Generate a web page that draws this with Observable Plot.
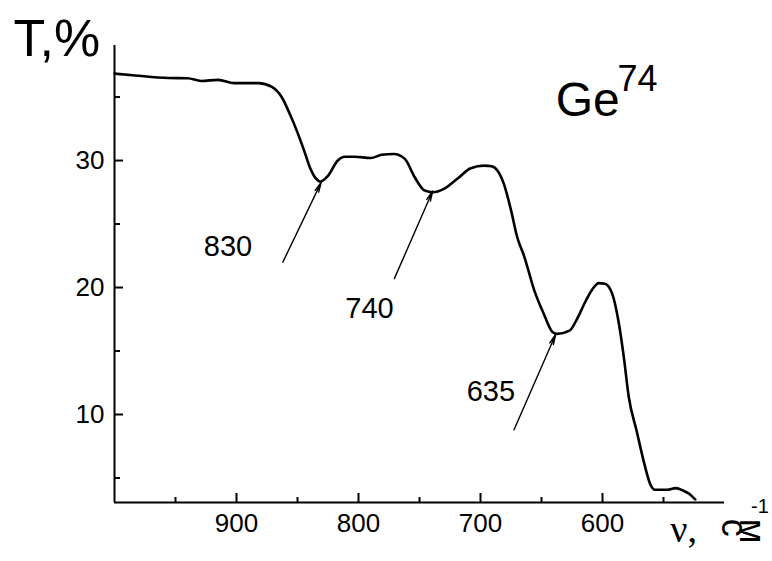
<!DOCTYPE html>
<html>
<head>
<meta charset="utf-8">
<script src="https://cdn.jsdelivr.net/npm/d3@7"></script>
<script src="https://cdn.jsdelivr.net/npm/@observablehq/plot@0.6"></script>
<style>
  html, body { margin: 0; padding: 0; background: #fff; }
  #chart { width: 772px; height: 561px; }
</style>
</head>
<body>
<div id="chart"></div>
<script>
// Spectrum (wavenumber, cm-1) and transmittance (%)
const wavenumber = [1000, 983, 956, 940, 929, 915, 902, 882, 871, 863, 856, 850, 845, 840, 835, 831, 825, 817, 811, 803, 790, 781, 771, 762, 754, 746, 739, 730, 719, 708, 697, 691, 686, 681, 675, 670, 664, 656, 648, 641, 637, 627, 621, 614, 608, 603, 598, 592, 587, 582.5, 578.5, 572, 565, 561, 557, 547, 540, 534, 529, 524];
const transmittance = [36.85, 36.7, 36.5, 36.48, 36.27, 36.35, 36.1, 36.1, 35.8, 35.0, 33.6, 32.2, 30.9, 29.5, 28.6, 28.35, 28.8, 30.0, 30.3, 30.3, 30.2, 30.45, 30.52, 30.13, 28.7, 27.65, 27.5, 27.77, 28.56, 29.4, 29.6, 29.55, 29.2, 28.2, 26.1, 24.0, 22.4, 19.8, 17.9, 16.5, 16.35, 16.6, 17.5, 18.9, 19.9, 20.35, 20.3, 19.5, 17.4, 14.5, 11.4, 8.7, 5.85, 4.55, 4.07, 4.07, 4.2, 4.02, 3.76, 3.31];

// Axes
const xDomain = [1000, 500];
const yDomain = [3.07, 39.06];
const xMajor = [900, 800, 700, 600];
const xMinor = [950, 850, 750, 650, 550];
const yMajor = [10, 20, 30];
const yMinor = [5, 15, 25, 35];

// Peak annotations
const peakLabels = ["830", "740", "635"];
const peakLabelX = [907, 791, 691.5];
const peakLabelY = [23.2, 18.35, 11.8];
const arrowX1 = [862, 770.6, 672.5];
const arrowY1 = [22.0, 20.7, 8.8];
const arrowX2 = [830.5, 739.2, 638.4];
const arrowY2 = [28.3, 27.6, 16.3];

// Texts
const yTitle = "T,%";
const sampleName = "Ge";
const sampleMass = "74";
const xTitleNu = "ν,";
const xTitleUnit = "см";
const xTitleExp = "-1";

const spectrum = wavenumber.map((w, i) => ({w, t: transmittance[i]}));
const peaks = peakLabels.map((l, i) => ({
  label: l, lx: peakLabelX[i], ly: peakLabelY[i],
  x1: arrowX1[i], y1: arrowY1[i], x2: arrowX2[i], y2: arrowY2[i]
}));

const font = "Liberation Sans, Arial, Helvetica, sans-serif";
const blank = () => "";

const chart = Plot.plot({
  width: 772,
  height: 561,
  marginLeft: 114,
  marginTop: 45,
  marginRight: 48,
  marginBottom: 59,
  style: {fontFamily: font, background: "#fff", overflow: "visible"},
  x: {domain: xDomain},
  y: {domain: yDomain},
  marks: [
    // axis lines
    Plot.ruleX([xDomain[0]], {stroke: "#000", strokeWidth: 2}),
    Plot.ruleY([yDomain[0]], {stroke: "#000", strokeWidth: 2}),
    // inward ticks
    Plot.axisX(xMajor, {anchor: "bottom", tickSize: -9, strokeWidth: 2, stroke: "#000", tickFormat: blank, label: null}),
    Plot.axisX(xMinor, {anchor: "bottom", tickSize: -5, strokeWidth: 2, stroke: "#000", tickFormat: blank, label: null}),
    Plot.axisY(yMajor, {anchor: "left", tickSize: -9, strokeWidth: 2, stroke: "#000", tickFormat: blank, label: null}),
    Plot.axisY(yMinor, {anchor: "left", tickSize: -6, strokeWidth: 2, stroke: "#000", tickFormat: blank, label: null}),
    // tick labels
    Plot.axisX(xMajor, {anchor: "bottom", tickSize: 0, tickPadding: 11, fontSize: 26, fill: "#000", tickFormat: d => String(d), label: null}),
    Plot.axisY(yMajor, {anchor: "left", tickSize: 0, tickPadding: 10, fontSize: 26, fill: "#000", tickFormat: d => String(d), label: null}),
    // spectrum
    Plot.line(spectrum, {x: "w", y: "t", stroke: "#000", strokeWidth: 2.6, curve: "monotone-x"}),
    // arrows
    Plot.arrow(peaks, {x1: "x1", y1: "y1", x2: "x2", y2: "y2", stroke: "#000", strokeWidth: 1.4, headLength: 11, headAngle: 22}),
    Plot.text(peaks, {x: "lx", y: "ly", text: "label", fontSize: 29, letterSpacing: -1, fill: "#000", textAnchor: "middle", lineAnchor: "middle"}),
    // y title
    Plot.text([yTitle], {frameAnchor: "top-left", dx: -101, dy: 10, textAnchor: "start", lineAnchor: "bottom", fontSize: 52, letterSpacing: -3, fill: "#000"}),
    // sample label
    Plot.text([sampleName], {x: 638.4, y: 33.54, textAnchor: "start", lineAnchor: "bottom", fontSize: 48, letterSpacing: -4, fill: "#000"}),
    Plot.text([sampleMass], {x: 587.7, y: 35.51, textAnchor: "start", lineAnchor: "bottom", fontSize: 36, letterSpacing: -3, fill: "#000"}),
    // x title
    Plot.text([xTitleNu], {x: 544.4, y: -0.08, textAnchor: "start", lineAnchor: "bottom", fontSize: 38, fontFamily: "Liberation Serif, Times New Roman, serif", fill: "#000"}),
    Plot.text([xTitleUnit], {x: 502, y: 1.8, textAnchor: "start", lineAnchor: "bottom", fontSize: 36, fill: "#000"}),
    Plot.text([xTitleExp], {x: 471, y: 2.25, textAnchor: "middle", lineAnchor: "bottom", fontSize: 20, fill: "#000"})
  ]
});

// render the unit glyphs rotated, as in the original figure
d3.select(chart).selectAll("text").filter(function() { return this.textContent === xTitleUnit; }).attr("rotate", 90);

document.getElementById("chart").appendChild(chart);
</script>
</body>
</html>
